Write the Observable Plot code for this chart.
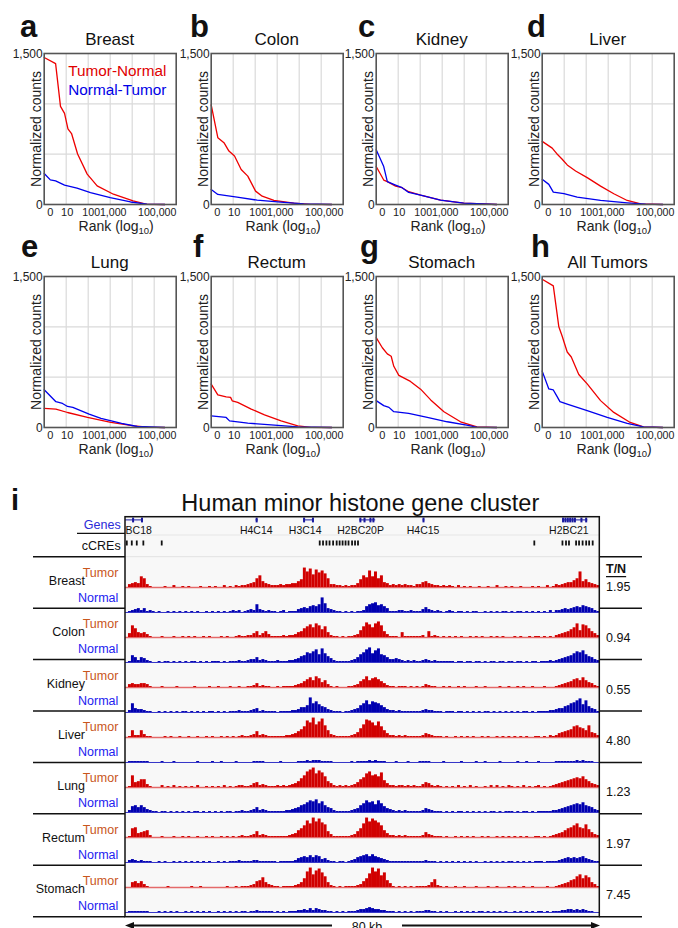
<!DOCTYPE html>
<html><head><meta charset="utf-8">
<script src="https://cdn.jsdelivr.net/npm/d3@7"></script>
<script src="https://cdn.jsdelivr.net/npm/@observablehq/plot@0.6"></script>
<style>
body{margin:0;background:#fff;}
#fig{position:relative;width:678px;height:928px;overflow:hidden;background:#fff;}
#fig > svg, #fig > div{position:absolute;}
</style></head>
<body><div id="fig"></div>
<script>
const FONT = '"Liberation Sans", Arial, Helvetica, sans-serif';

// ---------- Panels a-h : ranked normalized counts ----------
const panelLetters = ["a","b","c","d","e","f","g","h"];
const panelTitles = ["Breast","Colon","Kidney","Liver","Lung","Rectum","Stomach","All Tumors"];
const xTickRanks = [1, 10, 100, 1000, 100000];
const xTickLabels = ["0", "10", "100", "1,000", "100,000"];
const gridRanks = [10, 100, 1000, 10000, 100000];
const yTickCounts = [0, 1500];
const gridCounts = [500, 1000];

// [rank, normalized count]
const breastTN = [[1,1460],[3.3,1400],[5.5,975],[8.4,905],[12,752],[17.5,705],[33,502],[90,302],[255,185],[1400,102],[11000,35],[47000,2],[300000,0]];
const breastNT = [[1,308],[1.9,245],[3.3,235],[8.4,192],[31,162],[127,118],[1000,68],[8400,25],[47000,3],[300000,0]];
const colonTN = [[1,990],[2,664],[3.8,614],[6.4,531],[11.5,481],[23,348],[46,282],[104,133],[208,83],[708,40],[5700,13],[33000,1],[300000,0]];
const colonNT = [[1,149],[2,100],[15,73],[123,43],[1430,23],[16000,7],[300000,0]];
const kidneyTN = [[1,377],[2.2,243],[3.2,227],[7.6,183],[15,167],[30,127],[104,93],[840,43],[9500,13],[300000,0]];
const kidneyNT = [[1,543],[2.2,377],[3.2,227],[7.6,193],[15,167],[30,120],[104,93],[840,43],[9500,13],[300000,0]];
const liverTN = [[1,627],[2.85,560],[4.5,507],[8.1,450],[13.7,393],[33,333],[111,267],[450,183],[1800,107],[7300,40],[30000,7],[300000,0]];
const liverNT = [[1,250],[2,200],[3.2,123],[9.7,107],[39,73],[450,40],[7300,17],[50000,3],[300000,0]];
const lungTN = [[1,189],[3.4,183],[11.5,149],[93,100],[1070,50],[12000,17],[50000,3],[300000,0]];
const lungNT = [[1,375],[3.4,256],[6.8,239],[11.5,209],[20,199],[110,133],[380,90],[3300,40],[17000,10],[300000,0]];
const rectumTN = [[1,431],[2,325],[4.8,305],[7.6,299],[9,265],[16,249],[66,183],[265,126],[1500,66],[8600,17],[35000,1],[300000,0]];
const rectumNT = [[1,116],[4.8,100],[6.8,66],[46,43],[530,27],[8600,7],[300000,0]];
const stomachTN = [[1,892],[1.9,792],[3.2,731],[4.8,708],[6.3,608],[10.7,518],[36,458],[104,381],[300,274],[1200,157],[6800,57],[38000,7],[300000,0]];
const stomachNT = [[1,267],[2.2,217],[3.8,200],[6.3,157],[30,140],[210,100],[1700,57],[13000,23],[40000,2],[300000,0]];
const allTN = [[1,1473],[3.2,1407],[5.7,1000],[8.1,907],[13.7,750],[21,700],[46,527],[111,433],[450,267],[1800,150],[10000,50],[40000,7],[300000,0]];
const allNT = [[1,560],[2,383],[3.2,373],[4.5,317],[6.4,257],[13.7,233],[111,167],[900,100],[7300,40],[40000,7],[300000,0]];

const panelTN = [breastTN, colonTN, kidneyTN, liverTN, lungTN, rectumTN, stomachTN, allTN];
const panelNT = [breastNT, colonNT, kidneyNT, liverNT, lungNT, rectumNT, stomachNT, allNT];
const legendLabels = ["Tumor-Normal", "Normal-Tumor"];

// ---------- Panel i : histone cluster tracks ----------
const tissues = ["Breast","Colon","Kidney","Liver","Lung","Rectum","Stomach"];
const tnRatios = [1.95, 0.94, 0.55, 4.80, 1.23, 1.97, 7.45];
const spanKb = 80;
const geneLabels = ["BC18","H4C14","H3C14","H2BC20P","H4C15","H2BC21"];
const geneLabelKb = [0, 22.05, 30.3, 39.65, 50.2, 74.8];
const geneStartKb = [0, 22.0, 30.1, 39.5, 50.2, 73.8];
const geneEndKb = [2.95, 22.4, 31.8, 42.2, 50.5, 78.0];
const exonKb = [1.35, 2.85, 22.2, 30.2, 31.7, 39.7, 40.4, 41.4, 41.9, 50.35, 73.9, 74.3, 74.7, 75.1, 75.5, 75.9, 77.0, 77.8];
const ccreKb = [0.29, 1.13, 1.97, 3.08, 6.18, 32.84, 33.4, 33.97, 34.5, 35.1, 35.7, 36.2, 36.7, 37.2, 37.7, 38.3, 38.8, 39.3, 69.05, 73.8, 74.4, 74.9, 76.1, 76.6, 77.2, 77.8, 78.3, 78.9];

// coverage per 0.5 kb bin (base-36 digit = approx. pixel height)
const breastTumor = ["03454b9310","0001002001","0100010010","1002010212","23459c6432","2232334468","kgjdifhe93","3221212248","cahbg9c542","3232322133","5643221212","1020101001","0010020010","1001000101","0020132345","579g685432"];
const breastNormal = ["0123424121","0100101010","1010100101","0101012120","1232832121","1012011134","546768f943","2110101011","2689a78641","1122112111","3532121012","1011010110","0101010110","1011010101","0102022343","4565765421"];
const colonTumor = ["04c9545310","0010001001","0101001010","0010100121","1224624631","1112122356","9bdaec8b52","1101011237","bfdaegc631","1105111111","2061210101","0101001010","1001010100","0101001011","0101023456","8ae7dc9642"];
const colonNormal = ["0175254210","0101101010","1011010101","1101011121","1233523211","1211122346","7a9bd8e964","2111112358","adf9ce8753","3432121211","2321211111","1011011011","0101101101","1011010110","1112123456","79bac86532"];
const kidneyTumor = ["0343344310","0010000100","0001000010","0100010010","0112412110","0101111234","68a7b95731","0100011236","8b79a86421","1011101010","1321100101","0010100010","0100001001","0010100100","0100012345","6897a75421"];
const kidneyNormal = ["0294332110","0101010101","1010101011","0101011121","1123412111","1011112235","57f9b86532","1110112347","9c8ba97532","2121111111","2322111011","1011010101","0110101010","1010110101","1112234467","9ace8c6431"];
const liverTumor = ["0172273110","0001010010","0100100101","0010101012","1123623211","1111223468","bhfkdgjc73","2111112359","dihfcgb742","2121211111","2432111010","0101010100","1010010101","0101010011","0102124567","8bca97c542"];
const liverNormal = ["0111111100","0010001000","0000100001","0010000100","0001111000","0010000011","1212221111","0000001011","1121211100","0100010001","1110000100","0001000010","0100001000","0010010001","0000011111","1121211100"];
const lungTumor = ["01c5688310","0020102010","1010200101","0102010122","1124523211","1212123469","cgikehfb64","2121212358","aegcdbf742","2122121211","3542121010","1020102010","0102020102","1010201012","0101234567","89a9b86432"];
const lungNormal = ["0267575321","1011010101","0101101010","1010110112","1123523211","1111223457","8acbd9b754","2111112347","9cab8c9643","2121211111","2432111010","1011010101","0101101011","1010110101","1111223456","7898a76532"];
const rectumTumor = ["019a456720","0010001001","0100100101","0010101012","1123623211","1111123479","chekgjfd63","1111112369","ekgjhfc742","2121211111","2532111010","0101010100","1010010101","0101010011","0101234579","acea9d8532"];
const rectumNormal = ["0232121110","0101001010","1010101010","0101011121","1112211111","1011111245","6575763421","1011012356","7868654321","1111111111","1211101010","1010101010","0101010101","1010101011","1011112345","4545643211"];
const stomachTumor = ["0056463100","0000100000","0010010000","0000100101","112367a532","1101111235","9gkdhjfb52","1010111123","69ekgjcf74","1010101011","1125821010","0100100010","0010010001","0100100100","0010012345","78bd9ca531"];
const stomachNormal = ["0111111100","0101010100","1010101010","0101010101","1011211111","0101011122","3242432211","0101011123","3454332211","1010101011","1221101010","0101010101","1010101010","0101010101","1010111223","3232321100"];

const trackStrings = [breastTumor, breastNormal, colonTumor, colonNormal, kidneyTumor, kidneyNormal, liverTumor, liverNormal, lungTumor, lungNormal, rectumTumor, rectumNormal, stomachTumor, stomachNormal];

// ---------- styles ----------
const RED = "#ee0000", BLUE = "#0000ee";
const TRACK_RED = "#d10000", TRACK_BLUE = "#0000b0";
const TUMOR_LABEL = "#c9561c", NORMAL_LABEL = "#2222f0";
const fig = document.getElementById("fig");

// ---------- draw panels a-h ----------
const frameLefts = [43.7, 210.7, 375.7, 541.7];
const rowOffsets = [0, 223];
const xfmt = d => xTickLabels[xTickRanks.indexOf(d)];
panelTitles.forEach((title, i) => {
  const col = i % 4, row = Math.floor(i / 4);
  const chart = Plot.plot({
    width: 178, height: 240,
    marginLeft: 43.7, marginRight: 2.3, marginTop: 53, marginBottom: 36,
    x: {type: "log", domain: [1, 1e6]},
    y: {domain: [0, 1500]},
    style: {fontFamily: FONT, color: "#222", background: "transparent", overflow: "visible"},
    marks: [
      Plot.gridX(gridRanks, {stroke: "#dadada", strokeOpacity: 1, strokeWidth: 1.2}),
      Plot.gridY(gridCounts, {stroke: "#dadada", strokeOpacity: 1, strokeWidth: 1.2}),
      Plot.line(panelTN[i], {x: d => d[0], y: d => d[1], stroke: RED, strokeWidth: 1.3}),
      Plot.line(panelNT[i], {x: d => d[0], y: d => d[1], stroke: BLUE, strokeWidth: 1.3}),
      Plot.frame({stroke: "#555", strokeWidth: 1.6}),
      Plot.axisY(yTickCounts, {tickSize: 0, tickPadding: 1.5, tickFormat: d3.format(","), fontSize: 12, label: null, dy: 1}),
      Plot.axisX(xTickRanks.slice(0, 1), {tickSize: 0, tickPadding: 4, tickFormat: xfmt, fontSize: 11, label: null, dx: 6}),
      Plot.axisX(xTickRanks.slice(1, 2), {tickSize: 0, tickPadding: 4, tickFormat: xfmt, fontSize: 11, label: null, dx: 1}),
      Plot.axisX(xTickRanks.slice(2), {tickSize: 0, tickPadding: 4, tickFormat: xfmt, fontSize: 10.6, label: null, dx: 3}),
      Plot.text(["Normalized counts"], {text: d => d, frameAnchor: "left", rotate: -90, textAnchor: "middle", lineAnchor: "bottom", dx: -3, fontSize: 14, fill: "#222"})
    ]
  });
  chart.style.left = (frameLefts[col] - 43.7) + "px";
  chart.style.top = rowOffsets[row] + "px";
  fig.appendChild(chart);
});

// ---------- panel i : box background ----------
const boxL = 125, boxT = 516.7, boxR = 599.3, boxB = 916.7;
const bg = document.createElement("div");
Object.assign(bg.style, {left: boxL + "px", top: boxT + "px", width: (boxR - boxL) + "px", height: (boxB - boxT) + "px", background: "#f8f8f8"});
fig.appendChild(bg);

// header (genes + cCREs)
const header = Plot.plot({
  width: boxR - boxL, height: 40, margin: 0,
  x: {domain: [0, spanKb], axis: null},
  y: {domain: [0, 40], range: [0, 40], axis: null},
  style: {fontFamily: FONT, background: "transparent"},
  marks: [
    Plot.rect(geneLabels, {x1: (d, i) => geneStartKb[i], x2: (d, i) => geneEndKb[i], y1: 2.4, y2: 3.4, fill: "#1a1aa0"}),
    Plot.rect(exonKb, {x1: d => d - 0.17, x2: d => d + 0.17, y1: 0.6, y2: 5.4, fill: "#1a1aa0"}),
    Plot.text(geneLabels.slice(0, 1), {x: geneLabelKb[0], y: 13.3, text: d => d, fontSize: 10.5, fill: "#111", textAnchor: "start"}),
    Plot.text(geneLabels.slice(1), {x: (d, i) => geneLabelKb[i + 1], y: 13.3, text: d => d, fontSize: 10.5, fill: "#111"}),
    Plot.rect(ccreKb, {x1: d => d - 0.15, x2: d => d + 0.15, y1: 23.5, y2: 28.5, fill: "#111"})
  ]
});
header.style.left = boxL + "px"; header.style.top = boxT + "px";
fig.appendChild(header);

// signal tracks
const trackRows = [];
trackStrings.forEach((arr, t) => {
  const vals = arr.join("").split("").map(c => parseInt(c, 36));
  const w = spanKb / vals.length;
  vals.forEach((v, b) => { if (v > 0) trackRows.push({track: t, x1: b * w, x2: (b + 1) * w, v, tumor: t % 2 === 0}); });
});
const trackIdx = d3.range(trackStrings.length);
const tracksH = boxB - (boxT + 40);
const tracks = Plot.plot({
  width: boxR - boxL, height: tracksH, margin: 0,
  x: {domain: [0, spanKb], axis: null},
  y: {domain: [0, tracksH / trackStrings.length], axis: null},
  fy: {domain: trackIdx, axis: null, padding: 0},
  style: {background: "transparent"},
  marks: [
    Plot.ruleY(trackIdx.filter(t => t % 2 === 0), {fy: d => d, y: 0, stroke: "#e46a6a", strokeWidth: 1.4}),
    Plot.ruleY(trackIdx.filter(t => t % 2 === 1), {fy: d => d, y: 0, stroke: "#3434c8", strokeWidth: 1}),
    Plot.rectY(trackRows.filter(d => d.tumor), {x1: "x1", x2: "x2", y: "v", fy: "track", fill: TRACK_RED, inset: 0}),
    Plot.rectY(trackRows.filter(d => !d.tumor), {x1: "x1", x2: "x2", y: "v", fy: "track", fill: TRACK_BLUE, inset: 0})
  ]
});
tracks.style.left = boxL + "px"; tracks.style.top = (boxT + 40) + "px";
fig.appendChild(tracks);

// ---------- overlay text & rules ----------
const ov = d3.select(fig).append("svg").attr("width", 678).attr("height", 928)
  .style("left", "0px").style("top", "0px").style("font-family", FONT).style("pointer-events", "none");
function T(x, y, s, o = {}) {
  const t = ov.append("text").attr("x", x).attr("y", y).text(s)
    .attr("font-size", o.size || 12.5).attr("fill", o.color || "#111").attr("text-anchor", o.anchor || "start");
  if (o.weight) t.attr("font-weight", o.weight);
  if (o.baseline) t.attr("dominant-baseline", o.baseline);
  return t;
}
function L(x1, y1, x2, y2, w = 1.5, c = "#111") {
  ov.append("line").attr("x1", x1).attr("y1", y1).attr("x2", x2).attr("y2", y2).attr("stroke", c).attr("stroke-width", w);
}

// letters, titles, x labels for a-h
const letterPos = [[20, 37], [190, 37], [358, 37], [527, 37], [21, 256.5], [193, 256.5], [360, 256.5], [531, 256.5]];
panelTitles.forEach((title, i) => {
  const col = i % 4, row = Math.floor(i / 4);
  const cx = frameLefts[col] + 66;
  T(letterPos[i][0], letterPos[i][1], panelLetters[i], {size: 31, weight: "bold"});
  T(cx, 44.7 + rowOffsets[row], title, {size: 17, anchor: "middle"});
  const r = T(cx + 6.5, 231 + rowOffsets[row], "Rank (log", {size: 14, anchor: "middle", color: "#222"});
  r.append("tspan").attr("font-size", 9.5).attr("dy", 3).text("10");
  r.append("tspan").attr("dy", -3).text(")");
});
// legend in panel a
T(68.3, 76, legendLabels[0], {size: 15.3, color: "#e00000"});
T(68.3, 95, legendLabels[1], {size: 15.3, color: "#0000e6"});

// panel i
T(11, 510, "i", {size: 29, weight: "bold"});
T(360.3, 511, "Human minor histone gene cluster", {size: 23.5, anchor: "middle"});
T(120.7, 525, "Genes", {anchor: "end", color: "#2a2ad8", baseline: "central"});
T(120.7, 545.5, "cCREs", {anchor: "end", baseline: "central"});
L(77, 533.3, boxL, 533.3, 1.3);
L(boxL, 535, boxR, 535, 1, "#e6e6e6");
L(boxL, 556.7, boxR, 556.7, 1, "#e2e2e2");
L(33, 556.7, boxL, 556.7, 1.5);
L(boxR, 556.7, 642, 556.7, 1.5);
T(606, 569, "T/N", {weight: "bold", baseline: "central"}).attr("text-decoration", "underline");

const rowH = (boxB - 556.7) / tissues.length;
tissues.forEach((tissue, r) => {
  const top = 556.7 + r * rowH;
  T(118.3, top + 16, "Tumor", {anchor: "end", color: TUMOR_LABEL, baseline: "central"});
  T(85, top + 24, tissue, {anchor: "end", baseline: "central"});
  T(118.3, top + 41, "Normal", {anchor: "end", color: NORMAL_LABEL, baseline: "central"});
  T(606, top + 30, tnRatios[r].toFixed(2), {baseline: "central"});
  L(33, top + rowH, boxL, top + rowH, 1.5);
  L(boxR, top + rowH, 642, top + rowH, 1.5);
});
// box border
ov.append("rect").attr("x", boxL).attr("y", boxT).attr("width", boxR - boxL).attr("height", boxB - boxT)
  .attr("fill", "none").attr("stroke", "#111").attr("stroke-width", 1.5);

// scale arrow
L(131, 925.5, 332, 925.5, 2);
L(402, 925.5, 594, 925.5, 2);
ov.append("path").attr("d", "M125,925.5 L134,922 L134,929 Z").attr("fill", "#111");
ov.append("path").attr("d", "M600,925.5 L591,922 L591,929 Z").attr("fill", "#111");
T(367, 930.5, "80 kb", {anchor: "middle", size: 12.5});
</script>
</body></html>
